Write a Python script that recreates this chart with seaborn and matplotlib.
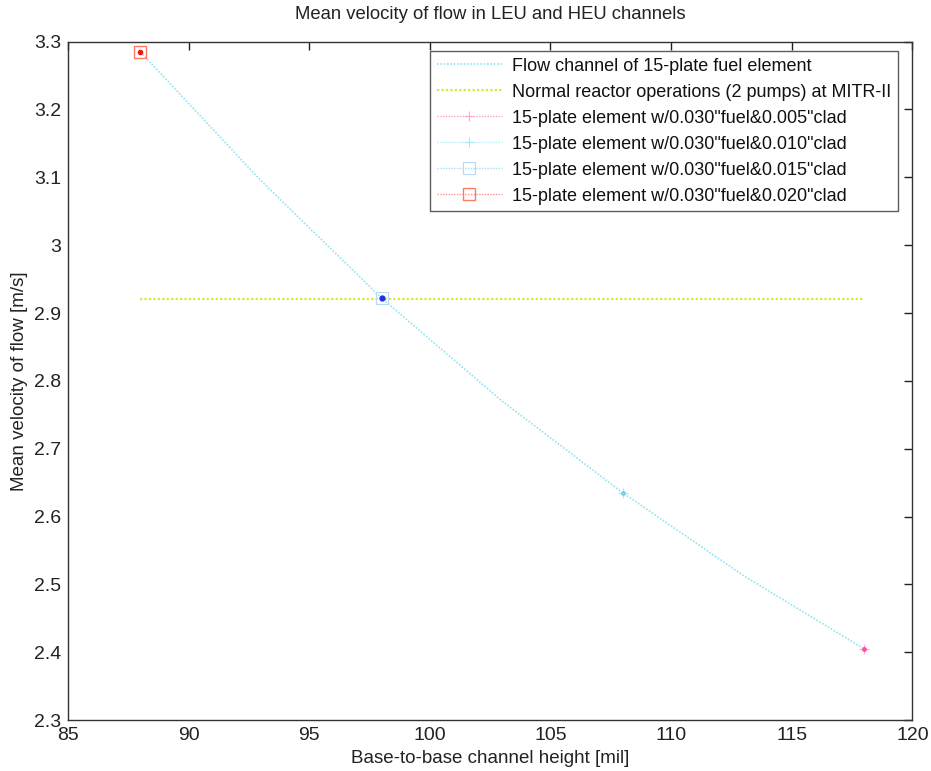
import matplotlib
matplotlib.use("Agg")
import matplotlib.pyplot as plt
import seaborn as sns
import pandas as pd

# Flow-channel curve: mean velocity vs. base-to-base channel height
height_mil = [88, 93, 98, 103, 108, 113, 118]
velocity_ms = [3.285, 3.095, 2.922, 2.770, 2.635, 2.513, 2.405]

# MITR-II normal operations (2 pumps)
mitr_height = [88, 118]
mitr_velocity = [2.92, 2.92]

# Design points for each clad thickness
clad_labels = ['15-plate element w/0.030"fuel&0.005"clad',
               '15-plate element w/0.030"fuel&0.010"clad',
               '15-plate element w/0.030"fuel&0.015"clad',
               '15-plate element w/0.030"fuel&0.020"clad']
clad_height = [118, 108, 98, 88]
clad_velocity = [2.405, 2.635, 2.922, 3.285]

sns.set_theme(style="white")
plt.rcParams['font.family'] = ['Liberation Sans', 'DejaVu Sans']

fig = plt.figure(figsize=(9.31, 7.71), dpi=100)
ax = fig.add_axes([0.073, 0.066, 0.907, 0.88])

curve = pd.DataFrame({"h": height_mil, "v": velocity_ms})
mitr = pd.DataFrame({"h": mitr_height, "v": mitr_velocity})

sns.lineplot(data=curve, x="h", y="v", ax=ax, color="#8fe6f2", lw=1.2,
             linestyle=(0, (1, 1)), label="Flow channel of 15-plate fuel element")
sns.lineplot(data=mitr, x="h", y="v", ax=ax, color="#d8e83a", lw=1.6,
             linestyle=(0, (1, 1)), label="Normal reactor operations (2 pumps) at MITR-II")

styles = [
    dict(color="#ffa0d0", marker="+", markersize=7, mec="#ffa8d8", mew=0.8),
    dict(color="#b0eef8", marker="+", markersize=7, mec="#a8e8f5", mew=0.8),
    dict(color="#a8e0f5", marker="s", markersize=8, mec="#b8d8f5", mfc="none", mew=0.8),
    dict(color="#ff9090", marker="s", markersize=9, mec="#ff7a60", mfc="none", mew=1.0),
]
for lab, h, v, st in zip(clad_labels, clad_height, clad_velocity, styles):
    pt = pd.DataFrame({"h": [h], "v": [v]})
    c = st.pop("color")
    sns.lineplot(data=pt, x="h", y="v", ax=ax, color=c, linestyle=(0, (1, 1)),
                 lw=1.0, label=lab, **st)
    st["color"] = c
# solid centre dots of the design points
ax.plot(clad_height[3], clad_velocity[3], "o", color="#ff1010", markersize=3)
ax.plot(clad_height[2], clad_velocity[2], "o", color="#2030e0", markersize=3.5)
ax.plot(clad_height[0], clad_velocity[0], "o", color="#ff4fa0", markersize=2.5)
ax.plot(clad_height[1], clad_velocity[1], "o", color="#70d8ee", markersize=2.5)

ax.set_xlim(85, 120)
ax.set_ylim(2.3, 3.3)
ax.set_xticks([85, 90, 95, 100, 105, 110, 115, 120])
ax.set_yticks([2.3, 2.4, 2.5, 2.6, 2.7, 2.8, 2.9, 3.0, 3.1, 3.2, 3.3])
ax.set_yticklabels(["2.3", "2.4", "2.5", "2.6", "2.7", "2.8", "2.9", "3", "3.1", "3.2", "3.3"])
ax.tick_params(direction="in", length=6, width=1, top=True, right=True,
               labelsize=14, colors="#222222", pad=5)
for s in ax.spines.values():
    s.set_color("#333333")
    s.set_linewidth(1.0)

ax.set_xlabel("Base-to-base channel height [mil]", fontsize=13.5, color="#222222", labelpad=4)
ax.set_ylabel("Mean velocity of flow [m/s]", fontsize=13.5, color="#222222", labelpad=4)
ax.set_title("Mean velocity of flow in LEU and HEU channels", fontsize=13.3,
             color="#222222", pad=16)

leg = ax.legend(loc="upper right", fontsize=13, frameon=True, fancybox=False,
                edgecolor="#333333", borderaxespad=0.8, handlelength=3.6,
                labelspacing=0.5, borderpad=0.35, handletextpad=0.6,
                bbox_to_anchor=(1.0, 1.007))
leg.get_frame().set_linewidth(1.0)
for t in leg.get_texts():
    t.set_color("#111111")

fig.savefig("out.png", dpi=100, facecolor="white")
